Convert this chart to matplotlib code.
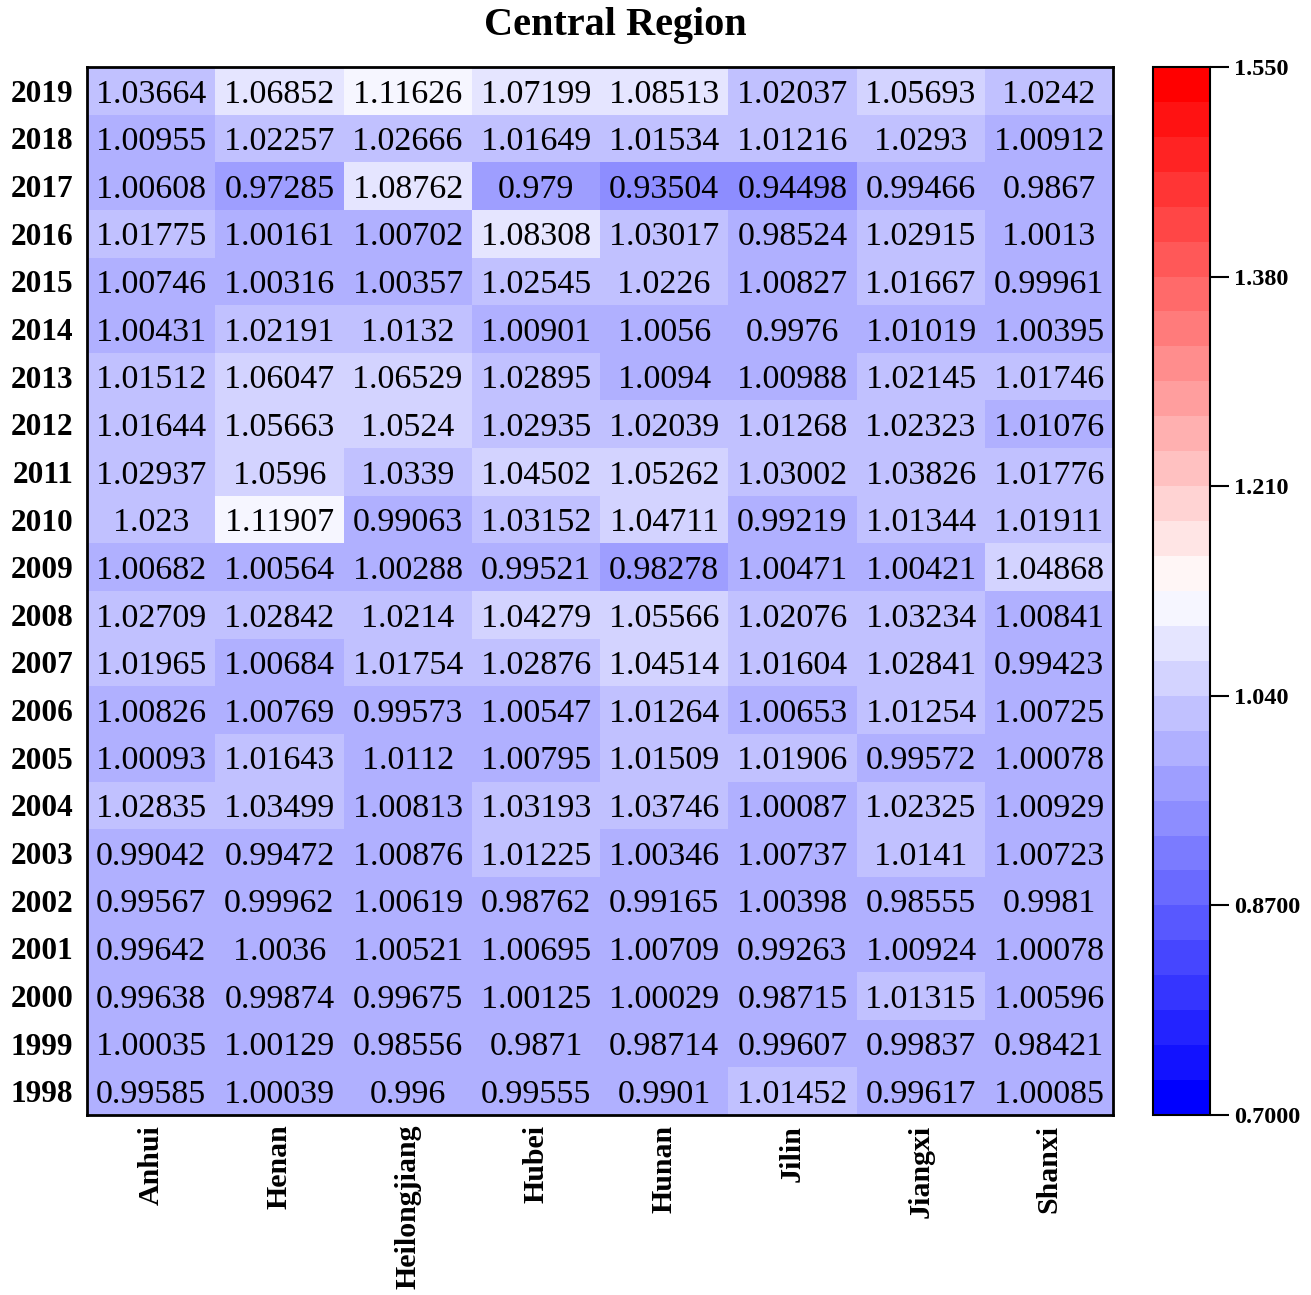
import numpy as np
import matplotlib
matplotlib.use("Agg")
import matplotlib.pyplot as plt
from matplotlib.colors import Normalize

# data (rows top -> bottom)
provinces = ["Anhui", "Henan", "Heilongjiang", "Hubei", "Hunan", "Jilin", "Jiangxi", "Shanxi"]
years = [2019, 2018, 2017, 2016, 2015, 2014, 2013, 2012, 2011, 2010, 2009,
         2008, 2007, 2006, 2005, 2004, 2003, 2002, 2001, 2000, 1999, 1998]
values = [
    [1.03664, 1.06852, 1.11626, 1.07199, 1.08513, 1.02037, 1.05693, 1.0242],
    [1.00955, 1.02257, 1.02666, 1.01649, 1.01534, 1.01216, 1.0293, 1.00912],
    [1.00608, 0.97285, 1.08762, 0.979, 0.93504, 0.94498, 0.99466, 0.9867],
    [1.01775, 1.00161, 1.00702, 1.08308, 1.03017, 0.98524, 1.02915, 1.0013],
    [1.00746, 1.00316, 1.00357, 1.02545, 1.0226, 1.00827, 1.01667, 0.99961],
    [1.00431, 1.02191, 1.0132, 1.00901, 1.0056, 0.9976, 1.01019, 1.00395],
    [1.01512, 1.06047, 1.06529, 1.02895, 1.0094, 1.00988, 1.02145, 1.01746],
    [1.01644, 1.05663, 1.0524, 1.02935, 1.02039, 1.01268, 1.02323, 1.01076],
    [1.02937, 1.0596, 1.0339, 1.04502, 1.05262, 1.03002, 1.03826, 1.01776],
    [1.023, 1.11907, 0.99063, 1.03152, 1.04711, 0.99219, 1.01344, 1.01911],
    [1.00682, 1.00564, 1.00288, 0.99521, 0.98278, 1.00471, 1.00421, 1.04868],
    [1.02709, 1.02842, 1.0214, 1.04279, 1.05566, 1.02076, 1.03234, 1.00841],
    [1.01965, 1.00684, 1.01754, 1.02876, 1.04514, 1.01604, 1.02841, 0.99423],
    [1.00826, 1.00769, 0.99573, 1.00547, 1.01264, 1.00653, 1.01254, 1.00725],
    [1.00093, 1.01643, 1.0112, 1.00795, 1.01509, 1.01906, 0.99572, 1.00078],
    [1.02835, 1.03499, 1.00813, 1.03193, 1.03746, 1.00087, 1.02325, 1.00929],
    [0.99042, 0.99472, 1.00876, 1.01225, 1.00346, 1.00737, 1.0141, 1.00723],
    [0.99567, 0.99962, 1.00619, 0.98762, 0.99165, 1.00398, 0.98555, 0.9981],
    [0.99642, 1.0036, 1.00521, 1.00695, 1.00709, 0.99263, 1.00924, 1.00078],
    [0.99638, 0.99874, 0.99675, 1.00125, 1.00029, 0.98715, 1.01315, 1.00596],
    [1.00035, 1.00129, 0.98556, 0.9871, 0.98714, 0.99607, 0.99837, 0.98421],
    [0.99585, 1.00039, 0.996, 0.99555, 0.9901, 1.01452, 0.99617, 1.00085],
]
cbar_ticks = [0.70, 0.87, 1.04, 1.21, 1.38, 1.55]
cbar_labels = ["0.7000", "0.8700", "1.040", "1.210", "1.380", "1.550"]

plt.rcParams['font.family'] = ['Liberation Serif', 'DejaVu Serif']

data = np.array(values)
n_rows, n_cols = data.shape

fig = plt.figure(figsize=(13.11, 12.95), dpi=100)
ax = fig.add_axes([0.0664, 0.139, 0.7826, 0.8093])
cax = fig.add_axes([0.8795, 0.139, 0.0435, 0.8093])

cmap = plt.get_cmap('bwr', 30)
norm = Normalize(vmin=0.7, vmax=1.55)

mesh = ax.pcolormesh(data, cmap=cmap, norm=norm)
ax.set_xlim(0, n_cols)
ax.set_ylim(n_rows, 0)

for i in range(n_rows):
    for j in range(n_cols):
        ax.text(j + 0.5, i + 0.5, f"{data[i, j]:g}", ha='center', va='center_baseline',
                fontsize=24.5, color='black')

ax.set_xticks(np.arange(n_cols) + 0.5)
ax.set_xticklabels(provinces, rotation=90, fontsize=21.5, fontweight='bold', va='top')
ax.set_yticks(np.arange(n_rows) + 0.5)
ax.set_yticklabels([str(y) for y in years], fontsize=22.5, fontweight='bold')
ax.tick_params(axis='y', length=0, pad=10)
ax.tick_params(axis='x', length=0, pad=7)
for s in ax.spines.values():
    s.set_linewidth(2)

cb = fig.colorbar(mesh, cax=cax)
cb.set_ticks(cbar_ticks)
cb.set_ticklabels(cbar_labels)
cax.tick_params(labelsize=17.5, length=14, width=1.5, direction='out', pad=3)
for lab in cax.get_yticklabels():
    lab.set_fontweight('bold')
cb.outline.set_linewidth(1.5)

fig.text(0.469, 0.980, "Central Region", ha='center', va='center',
         fontsize=29, fontweight='bold')

fig.savefig("out.png", dpi=100)
